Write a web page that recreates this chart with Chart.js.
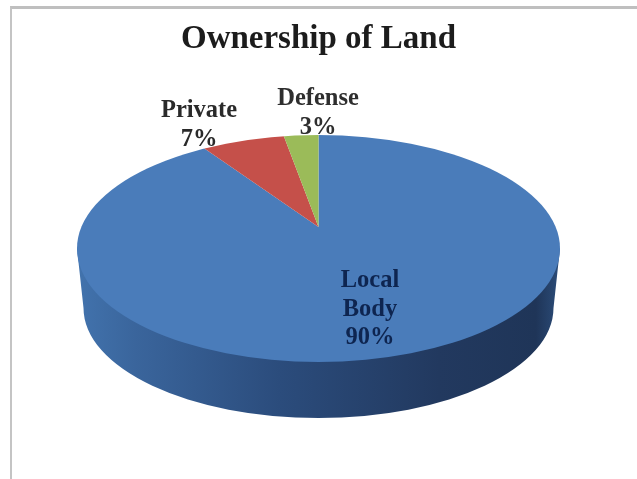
<!DOCTYPE html>
<html>
<head>
<meta charset="utf-8">
<title>Ownership of Land</title>
<script src="https://cdn.jsdelivr.net/npm/chart.js@4/dist/chart.umd.js"></script>
<style>
	html, body { margin: 0; padding: 0; background: #fff; overflow: hidden; }
	#frame { position: absolute; left: 10px; top: 6px; width: 627px; height: 473px; border-top: 3px solid #bfbfbf; border-left: 2px solid #c4c4c4; box-sizing: border-box; }
	#land_pie { position: absolute; left: 0; top: 0; }
</style>
</head>
<body>
<div id="frame"></div>
<canvas id="land_pie" width="637" height="479"></canvas>
<script>
const categories = ['Local Body', 'Private', 'Defense'];
const shares = [90, 7, 3];
const sliceColors = ['#4a7cba', '#c5504a', '#9bbb59'];

// where each slice's label sits, and its ink colour
const labelCenters = [[370, 281], [199, 111], [318, 99]];
const labelColors = ['#0e2550', '#2a2a2a', '#2e2e2e'];
const labelLineBreaks = [true, false, false];

// top face of the disc, and the lower rim it sits on
const face = {cx: 318.5, cy: 248.5, rx: 241.5, ry: 113.5};
const rim = {cx: 318.5, cy: 308, rx: 235, ry: 110};
const tilt = 0.5;

const tiltedPie = {
	id: 'tiltedPie',
	beforeDatasetsDraw(chart){
		let ctx = chart.ctx;
		let arc = chart.getDatasetMeta(0).data[0];

		// side wall, mostly hidden by the top face afterwards
		let wall = ctx.createLinearGradient(face.cx - face.rx, 0, face.cx + face.rx, 0);
		wall.addColorStop(0, '#4273ad');
		wall.addColorStop(0.12, '#3a659c');
		wall.addColorStop(0.42, '#2b4c7c');
		wall.addColorStop(0.75, '#22395f');
		wall.addColorStop(0.95, '#1f3558');
		wall.addColorStop(1, '#2c4d7a');
		ctx.save();
		ctx.beginPath();
		ctx.ellipse(rim.cx, rim.cy, rim.rx, rim.ry, 0, 0, Math.PI);
		ctx.lineTo(face.cx - face.rx, face.cy);
		ctx.lineTo(face.cx + face.rx, face.cy);
		ctx.closePath();
		ctx.fillStyle = wall;
		ctx.fill();
		ctx.restore();

		// slices are squashed about their own centre and trimmed to the face
		ctx.save();
		ctx.beginPath();
		ctx.ellipse(face.cx, face.cy, face.rx, face.ry, 0, 0, Math.PI * 2);
		ctx.clip();
		ctx.translate(arc.x, arc.y);
		ctx.scale(1, tilt);
		ctx.translate(-arc.x, -arc.y);
	},
	afterDatasetsDraw(chart){
		let ctx = chart.ctx;
		ctx.restore();

		ctx.save();
		ctx.font = 'bold 24.5px "Liberation Serif"';
		ctx.textAlign = 'center';
		ctx.textBaseline = 'middle';
		for(let i = 0; i < categories.length; i++){
			let lines = labelLineBreaks[i] ? categories[i].split(' ') : [categories[i]];
			lines.push(shares[i] + '%');
			ctx.fillStyle = labelColors[i];
			for(let j = 0; j < lines.length; j++){
				ctx.fillText(lines[j], labelCenters[i][0], labelCenters[i][1] + j * 28.5);
			}
		}
		ctx.restore();
	}
};

window.onload = function(){
	let ctx = document.getElementById('land_pie').getContext('2d');

	let datasets = [{
		'data': shares,
		'backgroundColor': sliceColors,
		'borderWidth': 0,
		'clip': false
	}];

	new Chart(ctx, {
		'type': 'pie',
		'data': {'labels': categories, 'datasets': datasets},
		'plugins': [tiltedPie],
		'options': {
			'responsive': false,
			'animation': false,
			'radius': 400,
			'layout': {'padding': {'bottom': 85}},
			'plugins': {
				'legend': {'display': false},
				'tooltip': {'enabled': false},
				'title': {
					'display': true,
					'text': 'Ownership of Land',
					'color': '#1c1c1c',
					'font': {'family': '"Liberation Serif"', 'size': 33, 'weight': 'bold', 'lineHeight': 1.2},
					'padding': {'top': 20, 'bottom': 0.4}
				}
			}
		}
	});
};
</script>
</body>
</html>
